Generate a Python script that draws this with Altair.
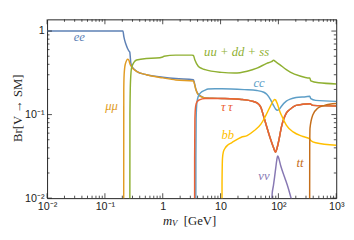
import altair as alt
import pandas as pd

# ---- data (mass in GeV, branching ratio) ----
ee_m  = [0.01, 0.205, 0.213, 0.230, 0.259, 0.269, 0.28, 0.291, 0.353, 0.521, 1.01, 1.68, 3.39, 3.55, 3.75, 4.11, 4.81, 5.4, 7.1,
         10.5, 22.8, 33.7, 42.6, 49.8, 56, 73.5, 82.6, 89.3, 95, 100, 113, 137, 160, 202, 349, 393, 1000]
ee_br = [1.0, 1.0, 0.85, 0.70, 0.58, 0.56, 0.42, 0.38, 0.33, 0.30, 0.28, 0.27, 0.262, 0.235, 0.20, 0.175, 0.163, 0.158, 0.157,
         0.156, 0.152, 0.146, 0.138, 0.122, 0.0935, 0.0503, 0.040, 0.0355, 0.040, 0.0464, 0.0713, 0.104, 0.116, 0.129, 0.135, 0.129, 0.127]

mumu_m  = [0.211, 0.212, 0.215, 0.225, 0.249, 0.262, 0.269, 0.291, 0.353, 0.521, 1.01, 1.68, 3.39, 3.55, 3.75, 4.11, 4.81, 5.4, 7.1,
           10.5, 22.8, 33.7, 42.6, 49.8, 56, 73.5, 82.6, 89.3, 95, 100, 113, 137, 160, 202, 349, 393, 1000]
mumu_br = [0.001, 0.2, 0.3, 0.40, 0.46, 0.44, 0.41, 0.37, 0.33, 0.30, 0.275, 0.26, 0.253, 0.23, 0.198, 0.174, 0.162, 0.158, 0.157,
           0.156, 0.152, 0.146, 0.138, 0.122, 0.0935, 0.0503, 0.040, 0.0355, 0.040, 0.0464, 0.0713, 0.104, 0.116, 0.129, 0.135, 0.129, 0.127]

had_m  = [0.269, 0.271, 0.277, 0.291, 0.353, 0.52, 0.77, 1.0, 1.05, 1.68, 3.2, 3.39, 3.6, 4.11, 4.81, 5.4, 10.5, 17.4, 28.8,
          42.6, 62.9, 76, 82.6, 89.3, 104, 137, 160, 237, 323, 349, 363, 500, 1000]
had_br = [0.001, 0.1, 0.25, 0.37, 0.45, 0.47, 0.475, 0.49, 0.50, 0.515, 0.515, 0.51, 0.45, 0.379, 0.355, 0.345, 0.32, 0.314, 0.331,
          0.36, 0.41, 0.43, 0.446, 0.43, 0.40, 0.345, 0.323, 0.29, 0.275, 0.275, 0.253, 0.24, 0.233]

cc_m  = [3.73, 3.74, 3.78, 3.9, 4.11, 4.5, 5.4, 6.07, 8, 10.5, 25.7, 42.6, 56, 62.9, 73.5, 82.6, 89.3, 96.6, 104, 113, 137, 160,
         202, 299, 349, 363, 441, 1000]
cc_br = [0.001, 0.03, 0.09, 0.14, 0.165, 0.182, 0.196, 0.202, 0.204, 0.204, 0.199, 0.194, 0.185, 0.175, 0.15, 0.128, 0.117, 0.113,
         0.116, 0.126, 0.145, 0.153, 0.160, 0.164, 0.166, 0.155, 0.148, 0.144]

tau_m  = [3.554, 3.56, 3.6, 3.7, 3.9, 4.3, 5.4, 10.5, 22.8, 33.7, 42.6, 49.8, 56, 73.5, 82.6, 89.3, 95, 100, 113, 137, 160, 202,
          349, 393, 1000]
tau_br = [0.001, 0.03, 0.09, 0.125, 0.142, 0.150, 0.156, 0.156, 0.152, 0.146, 0.138, 0.122, 0.0935, 0.0503, 0.040, 0.0355, 0.040,
          0.0464, 0.0713, 0.104, 0.116, 0.129, 0.135, 0.129, 0.127]

bb_m  = [10.56, 10.6, 10.8, 11.2, 11.8, 13.5, 15.5, 22.8, 28.8, 37.9, 49.8, 56, 62.9, 73.5, 82.6, 86, 89.3, 96.6, 104, 113, 137,
         180, 266, 349, 363, 441, 1000]
bb_br = [0.001, 0.015, 0.030, 0.036, 0.039, 0.0435, 0.046, 0.0535, 0.056, 0.064, 0.077, 0.088, 0.103, 0.128, 0.148, 0.152, 0.150,
         0.133, 0.113, 0.098, 0.075, 0.062, 0.0546, 0.051, 0.049, 0.046, 0.043]

nu_m  = [75, 78, 82, 86, 90, 94, 97, 100, 110, 128, 150, 167, 190]
nu_br = [0.003, 0.0112, 0.0141, 0.018, 0.023, 0.029, 0.032, 0.031, 0.0242, 0.0178, 0.0128, 0.0098, 0.007]

tt_m  = [346, 348, 352, 393, 477, 627, 1000]
tt_br = [0.001, 0.04, 0.069, 0.099, 0.119, 0.129, 0.136]

x_tick_vals = [0.01, 0.1, 1, 10, 100, 1000]
x_tick_labels = ["10⁻²", "10⁻¹", "1", "10", "10²", "10³"]
y_tick_vals = [0.01, 0.1, 1]
y_tick_labels = ["10⁻²", "10⁻¹", "1"]

series = [
    ("ee", ee_m, ee_br, "#5E81B5"),
    ("mumu", mumu_m, mumu_br, "#E19C24"),
    ("had", had_m, had_br, "#8FB032"),
    ("cc", cc_m, cc_br, "#5D9EC7"),
    ("tautau", tau_m, tau_br, "#EB6235"),
    ("bb", bb_m, bb_br, "#FFBF00"),
    ("nunu", nu_m, nu_br, "#8778B3"),
    ("tt", tt_m, tt_br, "#C56E1A"),
]

W, H = 296, 183
xs = alt.Scale(type="log", domain=[0.01, 1000], nice=False)
ys = alt.Scale(type="log", domain=[0.01, 1.38], nice=False)


def label_expr(vals, labs):
    parts = []
    for v, l in zip(vals, labs):
        parts.append(f"abs(datum.value - {v}) < {v * 1e-3} ? '{l}'")
    return " : ".join(parts) + " : ''"


xaxis = alt.Axis(values=x_tick_vals, labelExpr=label_expr(x_tick_vals, x_tick_labels), ticks=False, domain=False,
                 grid=False, labelFont="Liberation Sans", labelFontSize=11, labelColor="#222", labelPadding=3,
                 labelFlush=False)
yaxis = alt.Axis(values=y_tick_vals, labelExpr=label_expr(y_tick_vals, y_tick_labels), ticks=False, domain=False,
                 grid=False, labelFont="Liberation Sans", labelFontSize=11, labelColor="#222", labelPadding=3,
                 labelFlush=False)

layers = []
for name, m, br, col in series:
    df = pd.DataFrame({"m": m, "br": br})
    layers.append(
        alt.Chart(df).mark_line(color=col, strokeWidth=1.5, clip=True, interpolate="monotone").encode(
            x=alt.X("m:Q", scale=xs, axis=xaxis, title=None),
            y=alt.Y("br:Q", scale=ys, axis=yaxis, title=None),
        )
    )

# tick marks (inside, on all four sides)
def decade_ticks(lo_exp, hi_exp, top):
    major, minor = [], []
    for e in range(lo_exp, hi_exp + 1):
        for k in range(1, 10):
            v = k * 10.0 ** e
            if v > top * 1.0001:
                continue
            (major if k == 1 else minor).append(v)
    return major, minor

xmaj, xmin = decade_ticks(-2, 3, 1000)
ymaj, ymin = decade_ticks(-2, 0, 1.38)
MAJ, MIN = 5, 2.5

for vals, L in [(xmaj, MAJ), (xmin, MIN)]:
    d = pd.DataFrame({"t": vals})
    layers.append(alt.Chart(d).mark_rule(color="#222", strokeWidth=0.8).encode(
        x=alt.X("t:Q", scale=xs, axis=xaxis, title=None), y=alt.value(H), y2=alt.value(H - L)))
    layers.append(alt.Chart(d).mark_rule(color="#222", strokeWidth=0.8).encode(
        x=alt.X("t:Q", scale=xs, axis=xaxis, title=None), y=alt.value(0), y2=alt.value(L)))
for vals, L in [(ymaj, MAJ), (ymin, MIN)]:
    d = pd.DataFrame({"t": vals})
    layers.append(alt.Chart(d).mark_rule(color="#222", strokeWidth=0.8).encode(
        y=alt.Y("t:Q", scale=ys, axis=yaxis, title=None), x=alt.value(0), x2=alt.value(L)))
    layers.append(alt.Chart(d).mark_rule(color="#222", strokeWidth=0.8).encode(
        y=alt.Y("t:Q", scale=ys, axis=yaxis, title=None), x=alt.value(W), x2=alt.value(W - L)))

# curve labels
labels = [
    ("ee", 33, 18, "#5E81B5"),
    ("μμ", 66, 89, "#E19C24"),
    ("uu + dd + ss", 194, 33, "#8FB032"),
    ("cc", 217, 65, "#5D9EC7"),
    ("τ\u2009τ", 184, 90, "#EB6235"),
    ("bb", 185, 118, "#FFBF00"),
    ("νν", 222, 160, "#8778B3"),
    ("tt", 259, 147, "#C56E1A"),
]
for txt, px, py, col in labels:
    layers.append(alt.Chart(pd.DataFrame({"a": [0]})).mark_text(
        font="Liberation Serif", fontStyle="italic", fontSize=13, color=col, align="center", baseline="middle"
    ).encode(x=alt.value(px), y=alt.value(py), text=alt.value(txt)))

# axis titles
layers.append(alt.Chart(pd.DataFrame({"a": [0]})).mark_text(
    font="Liberation Serif", fontSize=13, color="#222", angle=270, align="center", baseline="middle"
).encode(x=alt.value(-30), y=alt.value(91), text=alt.value("Br[V → SM]")))
layers.append(alt.Chart(pd.DataFrame({"a": [0]})).mark_text(
    font="Liberation Serif", fontStyle="italic", fontSize=13, color="#222", align="right", baseline="alphabetic"
).encode(x=alt.value(128), y=alt.value(210), text=alt.value("m")))
layers.append(alt.Chart(pd.DataFrame({"a": [0]})).mark_text(
    font="Liberation Serif", fontStyle="italic", fontSize=9, color="#222", align="left", baseline="alphabetic"
).encode(x=alt.value(128), y=alt.value(212), text=alt.value("V")))
layers.append(alt.Chart(pd.DataFrame({"a": [0]})).mark_text(
    font="Liberation Serif", fontSize=13, color="#222", align="left", baseline="alphabetic"
).encode(x=alt.value(140), y=alt.value(210), text=alt.value("[GeV]")))

chart = alt.layer(*layers).properties(
    width=W, height=H,
    padding={"left": 40, "top": 9, "right": 10, "bottom": 31},
    autosize=alt.AutoSizeParams(type="none"),
).configure_view(stroke="#222", strokeWidth=1)

chart.save("out.html", embed_options={"renderer": "svg", "actions": False})
